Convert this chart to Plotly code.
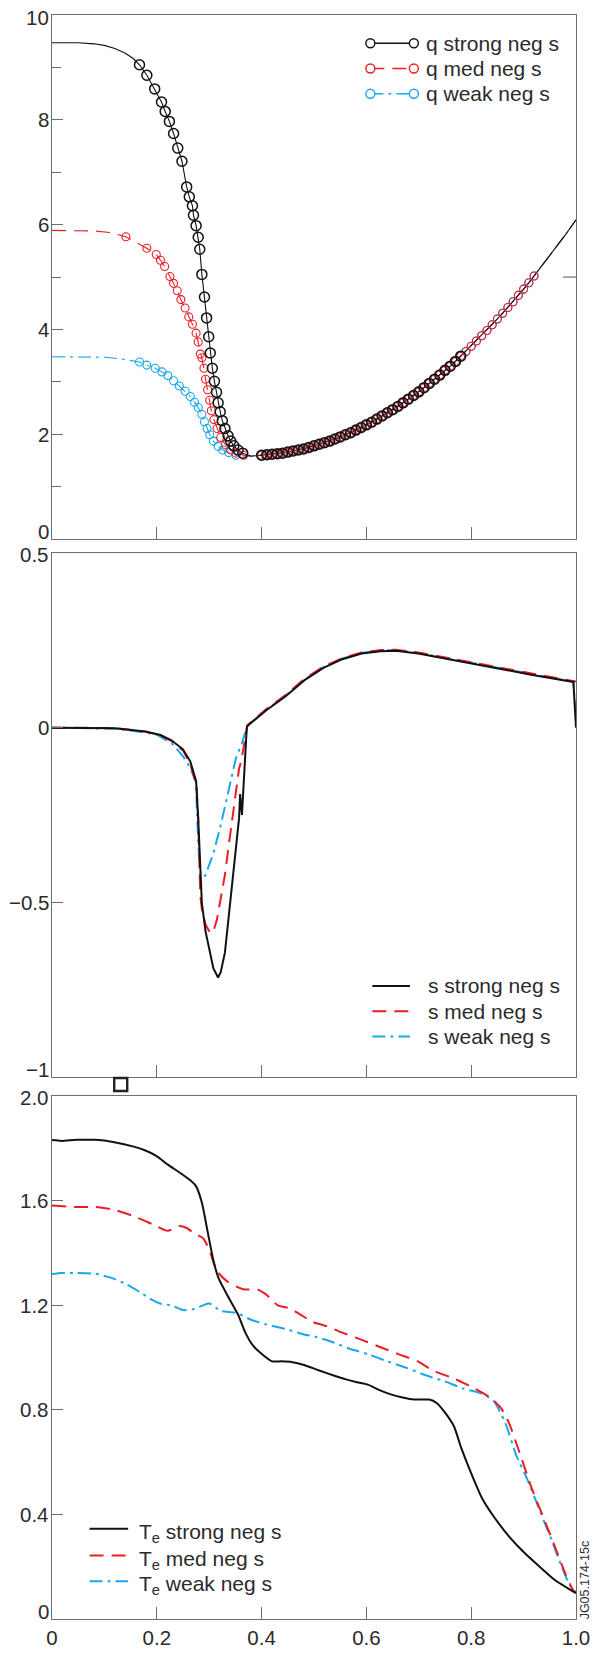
import plotly.graph_objects as go

# ---------------- data ----------------
# q profiles: inner (core) part differs per case, outer part (rho >= 0.40) is shared
rho_core_strong = [0.0, 0.05, 0.08, 0.10, 0.12, 0.14, 0.155, 0.167, 0.181, 0.196, 0.209, 0.216,
                   0.224, 0.232, 0.240, 0.248, 0.257, 0.262, 0.268, 0.270, 0.275, 0.279, 0.282,
                   0.286, 0.291, 0.295, 0.299, 0.302, 0.306, 0.310, 0.314, 0.317, 0.321, 0.325,
                   0.330, 0.336, 0.341, 0.347, 0.355, 0.364, 0.38]
q_core_strong = [9.47, 9.47, 9.45, 9.42, 9.36, 9.27, 9.17, 9.05, 8.85, 8.59, 8.34, 8.16,
                 7.97, 7.74, 7.46, 7.21, 6.72, 6.53, 6.36, 6.18, 5.98, 5.76, 5.53,
                 5.05, 4.62, 4.22, 3.86, 3.55, 3.26, 3.01, 2.80, 2.60, 2.43, 2.26,
                 2.11, 1.97, 1.87, 1.78, 1.70, 1.64, 1.58]

rho_core_med = [0.0, 0.05, 0.08, 0.11, 0.141, 0.181, 0.199, 0.207, 0.215, 0.225, 0.232, 0.239,
                0.246, 0.254, 0.261, 0.268, 0.275, 0.279, 0.283, 0.286, 0.290, 0.293, 0.297,
                0.301, 0.304, 0.309, 0.315, 0.322, 0.331, 0.341, 0.351, 0.366, 0.38]
q_core_med = [5.89, 5.89, 5.88, 5.85, 5.77, 5.55, 5.43, 5.32, 5.20, 5.01, 4.88, 4.74,
              4.57, 4.41, 4.24, 4.10, 3.93, 3.76, 3.53, 3.46, 3.26, 3.05, 2.85,
              2.65, 2.45, 2.28, 2.11, 1.94, 1.80, 1.70, 1.64, 1.60, 1.58]

rho_core_weak = [0.0, 0.06, 0.10, 0.13, 0.167, 0.181, 0.197, 0.210, 0.221, 0.232, 0.243, 0.254,
                 0.264, 0.272, 0.279, 0.286, 0.291, 0.296, 0.301, 0.308, 0.317, 0.326, 0.337,
                 0.351, 0.37]
q_core_weak = [3.48, 3.48, 3.47, 3.44, 3.38, 3.32, 3.26, 3.19, 3.12, 3.02, 2.92, 2.82,
               2.72, 2.61, 2.51, 2.38, 2.24, 2.11, 1.99, 1.87, 1.77, 1.70, 1.65,
               1.60, 1.58]

rho_outer = [0.40, 0.41, 0.42, 0.43, 0.44, 0.45, 0.46, 0.47, 0.48, 0.49,
             0.50, 0.51, 0.52, 0.53, 0.54, 0.55, 0.56, 0.57, 0.58, 0.59,
             0.60, 0.61, 0.62, 0.63, 0.64, 0.65, 0.66, 0.67, 0.68, 0.69,
             0.70, 0.71, 0.72, 0.73, 0.74, 0.75, 0.76, 0.77, 0.78, 0.79,
             0.80, 0.81, 0.82, 0.83, 0.84, 0.85, 0.86, 0.87, 0.88, 0.89,
             0.90, 0.91, 0.92, 0.93, 0.94, 0.95, 0.96, 0.97, 0.98, 0.99, 1.00]
q_outer = [1.60, 1.61, 1.62, 1.63, 1.64, 1.66, 1.68, 1.70, 1.72, 1.75,
           1.78, 1.81, 1.84, 1.87, 1.91, 1.95, 1.99, 2.03, 2.08, 2.13,
           2.18, 2.23, 2.29, 2.35, 2.41, 2.47, 2.53, 2.60, 2.67, 2.74,
           2.81, 2.89, 2.97, 3.05, 3.13, 3.22, 3.30, 3.39, 3.49, 3.58,
           3.68, 3.78, 3.88, 3.98, 4.09, 4.20, 4.31, 4.42, 4.53, 4.65,
           4.77, 4.89, 5.02, 5.14, 5.27, 5.40, 5.54, 5.67, 5.81, 5.95, 6.09]

# index ranges of the measured points (circles) on each profile
circ_core_strong = (7, 40)
circ_core_med = (4, 32)
circ_core_weak = (4, 24)
circ_outer_strong = 39
circ_outer_medweak = 53

# magnetic shear s
rho_s_strong = [0.0, 0.12, 0.178, 0.207, 0.228, 0.25, 0.264, 0.273, 0.275, 0.279, 0.283, 0.286,
                0.293, 0.301, 0.308, 0.317, 0.322, 0.330, 0.337, 0.344, 0.351, 0.357, 0.359,
                0.3625, 0.3717, 0.373, 0.409, 0.446, 0.482, 0.518, 0.554, 0.591, 0.627, 0.656,
                0.699, 0.772, 0.844, 0.917, 0.995, 1.0]
s_strong = [0.0, -0.002, -0.011, -0.021, -0.036, -0.062, -0.097, -0.138, -0.153, -0.259, -0.411,
            -0.502, -0.583, -0.644, -0.689, -0.715, -0.700, -0.644, -0.543, -0.441, -0.340,
            -0.259, -0.190, -0.250, 0.0, 0.005, 0.050, 0.090, 0.136, 0.171, 0.196, 0.212,
            0.219, 0.220, 0.212, 0.191, 0.171, 0.151, 0.131, 0.0]

rho_s_med = [0.0, 0.12, 0.178, 0.207, 0.228, 0.25, 0.264, 0.273, 0.276, 0.279, 0.281, 0.283,
             0.286, 0.293, 0.302, 0.308, 0.315, 0.322, 0.330, 0.337, 0.344, 0.351, 0.357,
             0.361, 0.3717, 0.373, 0.409, 0.446, 0.482, 0.518, 0.554, 0.591, 0.627, 0.656,
             0.699, 0.772, 0.844, 0.917, 1.0]
s_med = [0.0, -0.001, -0.011, -0.022, -0.038, -0.065, -0.105, -0.150, -0.168, -0.260, -0.360,
         -0.480, -0.520, -0.563, -0.588, -0.583, -0.548, -0.492, -0.421, -0.340, -0.259,
         -0.178, -0.117, -0.097, 0.0, 0.007, 0.053, 0.094, 0.140, 0.175, 0.199, 0.215,
         0.222, 0.223, 0.215, 0.195, 0.175, 0.155, 0.132]

rho_s_weak = [0.0, 0.12, 0.178, 0.20, 0.23, 0.25, 0.265, 0.275, 0.277, 0.280, 0.283, 0.293,
              0.308, 0.322, 0.337, 0.351, 0.362, 0.3717, 0.373, 0.409, 0.446, 0.482, 0.518,
              0.554, 0.591, 0.627, 0.656, 0.699, 0.772, 0.844, 0.917, 0.995, 1.0]
s_weak = [0.0, -0.003, -0.014, -0.020, -0.047, -0.082, -0.117, -0.158, -0.260, -0.360, -0.446,
          -0.421, -0.360, -0.279, -0.178, -0.087, -0.047, 0.0, 0.006, 0.051, 0.092, 0.138,
          0.173, 0.198, 0.214, 0.221, 0.222, 0.214, 0.193, 0.173, 0.153, 0.132, 0.024]

# electron temperature Te
rho_te_strong = [0.0, 0.018, 0.047, 0.083, 0.119, 0.156, 0.177, 0.199, 0.221, 0.242, 0.264,
                 0.275, 0.286, 0.297, 0.308, 0.318, 0.336, 0.355, 0.369, 0.383, 0.401, 0.420,
                 0.438, 0.459, 0.481, 0.510, 0.539, 0.561, 0.582, 0.604, 0.626, 0.648, 0.669,
                 0.691, 0.720, 0.734, 0.749, 0.767, 0.781, 0.800, 0.821, 0.843, 0.872, 0.901,
                 0.930, 0.959, 0.988, 1.0]
te_strong = [1.831, 1.828, 1.832, 1.832, 1.823, 1.806, 1.792, 1.771, 1.737, 1.709, 1.677,
             1.654, 1.592, 1.481, 1.371, 1.302, 1.233, 1.164, 1.095, 1.047, 1.012, 0.985,
             0.985, 0.982, 0.971, 0.950, 0.930, 0.916, 0.905, 0.895, 0.874, 0.858, 0.847,
             0.839, 0.839, 0.826, 0.792, 0.737, 0.654, 0.557, 0.461, 0.392, 0.316, 0.254,
             0.201, 0.150, 0.113, 0.099]

rho_te_med = [0.0, 0.047, 0.083, 0.119, 0.156, 0.192, 0.221, 0.242, 0.257, 0.271, 0.289,
              0.300, 0.315, 0.336, 0.365, 0.394, 0.409, 0.431, 0.452, 0.474, 0.496, 0.525,
              0.554, 0.590, 0.626, 0.662, 0.698, 0.727, 0.771, 0.807, 0.836, 0.857, 0.872,
              0.894, 0.915, 0.937, 0.959, 0.980, 0.995, 1.0]
te_med = [1.581, 1.575, 1.575, 1.564, 1.540, 1.509, 1.484, 1.502, 1.495, 1.475, 1.454,
          1.412, 1.330, 1.288, 1.261, 1.258, 1.240, 1.199, 1.189, 1.164, 1.137, 1.119,
          1.095, 1.068, 1.040, 1.012, 0.985, 0.950, 0.916, 0.881, 0.847, 0.806, 0.750,
          0.626, 0.502, 0.392, 0.281, 0.171, 0.109, 0.099]

rho_te_weak = [0.0, 0.018, 0.047, 0.083, 0.112, 0.141, 0.170, 0.192, 0.206, 0.228, 0.250,
               0.271, 0.300, 0.322, 0.351, 0.380, 0.409, 0.445, 0.481, 0.503, 0.532, 0.568,
               0.604, 0.640, 0.677, 0.713, 0.749, 0.785, 0.821, 0.843, 0.865, 0.886, 0.908,
               0.930, 0.952, 0.973, 0.988, 1.0]
te_weak = [1.319, 1.323, 1.323, 1.320, 1.305, 1.281, 1.247, 1.219, 1.206, 1.199, 1.181,
           1.185, 1.206, 1.178, 1.171, 1.144, 1.126, 1.109, 1.088, 1.079, 1.061, 1.033,
           1.012, 0.985, 0.960, 0.932, 0.909, 0.881, 0.861, 0.833, 0.750, 0.626, 0.530,
           0.419, 0.309, 0.199, 0.130, 0.102]

x_ticks = [0, 0.2, 0.4, 0.6, 0.8, 1.0]
x_ticktext = ["0", "0.2", "0.4", "0.6", "0.8", "1.0"]
q_ticks = [0, 2, 4, 6, 8, 10]
q_ticktext = ["0", "2", "4", "6", "8", "10"]
q_minor = [1, 3, 5, 7, 9]
s_ticks = [-1, -0.5, 0, 0.5]
s_ticktext = ["\u22121", "\u22120.5", "0", "0.5"]
te_ticks = [0, 0.4, 0.8, 1.2, 1.6, 2.0]
te_ticktext = ["0", "0.4", "0.8", "1.2", "1.6", "2.0"]

names_q = ["q strong neg s", "q med neg s", "q weak neg s"]
names_s = ["s strong neg s", "s med neg s", "s weak neg s"]
names_te = ["T<sub>e</sub> strong neg s", "T<sub>e</sub> med neg s", "T<sub>e</sub> weak neg s"]

# ---------------- styling ----------------
BLACK = "#111111"
RED = "#ec1c24"
BLUE = "#1aa7ec"
FONT = "Liberation Sans, Arial, sans-serif"
TXT = "#2b2b2b"
AX = "#6e6e6e"
DASH = "14px,8px"
DASHDOT = "13px,5px,3px,5px"
TICK_SIZE = 20.5
LEG_SIZE = 21

W, H = 602, 1661
L, R, T, B = 52, 20, 15, 27
PW = W - L - R
PH = H - T - B


def px(xp):
    return (xp - L) / PW


def py(yp):
    return (H - B - yp) / PH


fig = go.Figure()

# --- q panel ---
cases_q = [
    (rho_core_weak, q_core_weak, circ_core_weak, circ_outer_medweak, BLUE, DASHDOT),
    (rho_core_med, q_core_med, circ_core_med, circ_outer_medweak, RED, DASH),
    (rho_core_strong, q_core_strong, circ_core_strong, circ_outer_strong, BLACK, "solid"),
]
for rc, qc, (i0, i1), j1, col, dash in cases_q:
    fig.add_trace(go.Scatter(x=rc + rho_outer, y=qc + q_outer, mode="lines",
                             line=dict(color=col, width=1.1, dash=dash),
                             xaxis="x", yaxis="y", showlegend=False, hoverinfo="skip"))
for rc, qc, (i0, i1), j1, col, dash in cases_q:
    fig.add_trace(go.Scatter(x=rc[i0:i1] + rho_outer[:j1], y=qc[i0:i1] + q_outer[:j1],
                             mode="markers",
                             marker=dict(symbol="circle-open", size=10 if col == BLACK else 8,
                                         color=col, line=dict(width=1.5 if col == BLACK else 1.1)),
                             xaxis="x", yaxis="y", showlegend=False, hoverinfo="skip"))

# --- s panel ---
for rr, ss, col, dash in [(rho_s_weak, s_weak, BLUE, DASHDOT),
                          (rho_s_med, s_med, RED, DASH),
                          (rho_s_strong, s_strong, BLACK, "solid")]:
    fig.add_trace(go.Scatter(x=rr, y=ss, mode="lines",
                             line=dict(color=col, width=2.0, dash=dash),
                             xaxis="x2", yaxis="y2", showlegend=False, hoverinfo="skip"))

# --- Te panel ---
for rr, tt, col, dash in [(rho_te_weak, te_weak, BLUE, DASHDOT),
                          (rho_te_med, te_med, RED, DASH),
                          (rho_te_strong, te_strong, BLACK, "solid")]:
    fig.add_trace(go.Scatter(x=rr, y=tt, mode="lines",
                             line=dict(color=col, width=2.0, dash=dash, shape="spline", smoothing=0.6),
                             xaxis="x3", yaxis="y3", showlegend=False, hoverinfo="skip"))

# ---------------- axes ----------------
dom_top = [py(544), 1.0]
dom_mid = [py(1087), py(558)]
dom_bot = [0.0, py(1106)]

common = dict(showline=True, mirror=True, linecolor=AX, linewidth=1.2, showgrid=False,
              zeroline=False, ticks="inside", tickcolor=AX, tickwidth=1.2,
              tickfont=dict(family=FONT, size=TICK_SIZE, color=TXT))

xcommon = dict(common, range=[0, 1], tickvals=x_ticks, ticktext=x_ticktext, ticklen=12)

fig.update_layout(
    xaxis=dict(xcommon, anchor="y", showticklabels=False),
    xaxis2=dict(xcommon, anchor="y2", showticklabels=False),
    xaxis3=dict(xcommon, anchor="y3", showticklabels=True),
    yaxis=dict(common, domain=dom_top, anchor="x", range=[0, 10], tickvals=q_ticks,
               showticklabels=False, ticklen=11,
               minor=dict(tickvals=q_minor, ticklen=9, ticks="inside",
                          tickcolor=AX, tickwidth=1.2)),
    yaxis2=dict(common, domain=dom_mid, anchor="x2", range=[-1, 0.5], tickvals=s_ticks,
                showticklabels=False, ticklen=11),
    yaxis3=dict(common, domain=dom_bot, anchor="x3", range=[0, 2], tickvals=te_ticks,
                showticklabels=False, ticklen=11),
)

shapes = []
annotations = []

# y tick labels; the label at the lower end of each frame sits slightly raised,
# the one at the upper end slightly lowered
for yref, vals, texts in [("y", q_ticks, q_ticktext), ("y2", s_ticks, s_ticktext),
                          ("y3", te_ticks, te_ticktext)]:
    n = len(vals)
    for k, (v, t) in enumerate(zip(vals, texts)):
        shift = 8 if k == 0 else (-2 if k == n - 1 else 0)
        annotations.append(dict(xref="paper", yref=yref, x=px(50), y=v, xanchor="right",
                                yanchor="middle", text=t, showarrow=False, yshift=shift,
                                borderpad=0,
                                font=dict(family=FONT, size=TICK_SIZE, color=TXT)))


# ---------------- hand-drawn legends ----------------
def legend_rows(x0p, x1p, xtp, rows, names, circles, yshift=0):
    styles = [(BLACK, "solid"), (RED, DASH), (BLUE, DASHDOT)]
    for (col, dash), yr, name in zip(styles, rows, names):
        shapes.append(dict(type="line", xref="paper", yref="paper",
                           x0=px(x0p), x1=px(x1p), y0=py(yr), y1=py(yr),
                           line=dict(color=col, width=2.0 if not circles else 1.6, dash=dash)))
        if circles:
            for xc in (x0p, x1p):
                shapes.append(dict(type="circle", xref="paper", yref="paper",
                                   xsizemode="pixel", ysizemode="pixel",
                                   xanchor=px(xc), yanchor=py(yr),
                                   x0=-4.5, x1=4.5, y0=-4.5, y1=4.5,
                                   fillcolor="white", line=dict(color=col, width=1.4)))
        annotations.append(dict(xref="paper", yref="paper", x=px(xtp), y=py(yr),
                                xanchor="left", yanchor="middle", text=name, showarrow=False,
                                yshift=yshift,
                                font=dict(family=FONT, size=LEG_SIZE, color=TXT)))


legend_rows(374, 418, 428, [43.5, 69, 94.5], names_q, True)
legend_rows(376, 414, 430, [995, 1020.5, 1046], names_s, False)
legend_rows(90, 129, 138, [1543, 1570, 1596], names_te, False, yshift=-4)

# right-hand tick on the q frame
shapes.append(dict(type="line", xref="x", yref="y", x0=0.975, x1=1.0, y0=5, y1=5,
                   line=dict(color=AX, width=1.2)))

# small square marker between the lower panels
shapes.append(dict(type="rect", xref="paper", yref="paper", xsizemode="pixel", ysizemode="pixel",
                   xanchor=px(121.5), yanchor=py(1094.5), x0=-6.5, x1=6.5, y0=-6.5, y1=6.5,
                   line=dict(color="#222222", width=2.4), fillcolor="rgba(0,0,0,0)"))

annotations.append(dict(xref="paper", yref="paper", x=px(592), y=py(1636), xanchor="center",
                        yanchor="bottom", text="JG05.174-15c", textangle=-90, showarrow=False,
                        font=dict(family=FONT, size=12.5, color=TXT)))

fig.update_layout(
    width=W, height=H,
    margin=dict(l=L, r=R, t=T, b=B),
    paper_bgcolor="white", plot_bgcolor="white",
    shapes=shapes, annotations=annotations,
    showlegend=False,
)

fig.write_html("out.html")
